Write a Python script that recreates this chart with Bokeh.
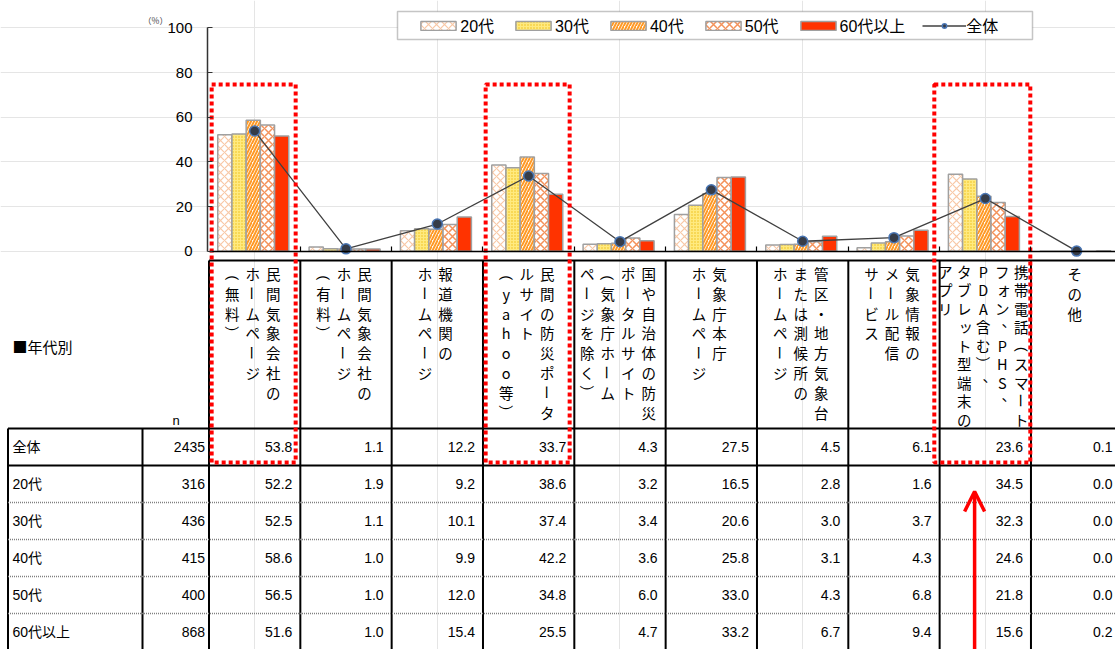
import numpy as np
from bokeh.plotting import figure
from bokeh.models import (Range1d, LinearAxis, FixedTicker, ColumnDataSource, Legend,
                          LegendItem, BoxAnnotation, Arrow, OpenHead, Label)
from bokeh.core.properties import value
from bokeh.embed import file_html
from bokeh.resources import INLINE

# ---------------- data ----------------
category_columns = [
    ["民間気象会社の", "ホームページ", "（無料）"],
    ["民間気象会社の", "ホームページ", "（有料）"],
    ["報道機関の", "ホームページ"],
    ["民間の防災ポータ", "ルサイト", "（yahoo等）"],
    ["国や自治体の防災", "ポータルサイト", "（気象庁ホーム", "ページを除く）"],
    ["気象庁本庁", "ホームページ"],
    ["管区・地方気象台", "または測候所の", "ホームページ"],
    ["気象情報の", "メール配信", "サービス"],
    ["携帯電話（スマート", "フォン、PHS、", "PDA含む）、", "タブレット型端末の", "アプリ"],
    ["その他"],
]
categories = ["".join(c) for c in category_columns]

groups = ["全体", "20代", "30代", "40代", "50代", "60代以上"]
n_values = [2435, 316, 436, 415, 400, 868]

overall = [53.8, 1.1, 12.2, 33.7, 4.3, 27.5, 4.5, 6.1, 23.6, 0.1]
age20 = [52.2, 1.9, 9.2, 38.6, 3.2, 16.5, 2.8, 1.6, 34.5, 0.0]
age30 = [52.5, 1.1, 10.1, 37.4, 3.4, 20.6, 3.0, 3.7, 32.3, 0.0]
age40 = [58.6, 1.0, 9.9, 42.2, 3.6, 25.8, 3.1, 4.3, 24.6, 0.0]
age50 = [56.5, 1.0, 12.0, 34.8, 6.0, 33.0, 4.3, 6.8, 21.8, 0.0]
age60 = [51.6, 1.0, 15.4, 25.5, 4.7, 33.2, 6.7, 9.4, 15.6, 0.2]

series_names = ["20代", "30代", "40代", "50代", "60代以上"]
series_values = [age20, age30, age40, age50, age60]
table_rows = [overall, age20, age30, age40, age50, age60]
y_ticks = [0, 20, 40, 60, 80, 100]
highlight_idx = [0, 3, 8]
arrow_idx = 8

# ---------------- layout ----------------
W, H = 1115, 649
OX, OY = 0, 0
COL0 = 208.5
COLW = 91.33
ZERO_Y = 250.8
PX_PER_PCT = 2.235


def cat_of(sx):
    return (sx - COL0) / COLW - 0.5


def pct_of(sy):
    return (ZERO_Y - sy) / PX_PER_PCT


FONT_NUM = "Liberation Sans, Noto Sans CJK JP"
FONT_JP = "Noto Sans CJK JP"

p = figure(width=W, height=H, output_backend="svg", toolbar_location=None,
           x_range=Range1d(cat_of(OX), cat_of(OX + W)),
           y_range=Range1d(pct_of(OY + H), pct_of(OY)),
           x_axis_location=None, y_axis_location=None, min_border=0,
           outline_line_color=None, background_fill_color="white")
p.extra_x_ranges = {"px": Range1d(OX, OX + W)}
p.extra_y_ranges = {"py": Range1d(OY + H, OY)}
PX = dict(x_range_name="px", y_range_name="py")

# ---------------- bars ----------------
BW = 14.2 / COLW
SHIFT = -1.4 / COLW
styles = [
    dict(fill_color="white", hatch_pattern="x", hatch_color="#F8C8A6", hatch_scale=8, hatch_weight=1.2),
    dict(fill_color="#FFEA80", hatch_pattern=".", hatch_color="#EDBE12", hatch_scale=3, hatch_weight=1.0),
    dict(fill_color="white", hatch_pattern="/", hatch_color="#FF9A26", hatch_scale=6, hatch_weight=2.0),
    dict(fill_color="white", hatch_pattern="x", hatch_color="#F4925A", hatch_scale=8, hatch_weight=1.5),
    dict(fill_color="#FF3300"),
]
bar_renderers = []
for j, (name, vals) in enumerate(zip(series_names, series_values)):
    src = ColumnDataSource(dict(x=[i + (j - 2) * BW + SHIFT for i in range(len(vals))], top=vals))
    r = p.vbar(x="x", top="top", bottom=0, width=BW, source=src,
               line_color="#A0A0A0", line_width=1.5, **styles[j])
    bar_renderers.append(r)

# ---------------- overall line ----------------
lsrc = ColumnDataSource(dict(x=list(range(len(overall))), y=overall))
line_r = p.line("x", "y", source=lsrc, line_color="#404040", line_width=1.3)
dot_r = p.scatter("x", "y", source=lsrc, size=10, fill_color="#363C48",
                  line_color="#4A76B4", line_width=1.5)

# ---------------- axes ----------------
yaxis = LinearAxis(fixed_location=-0.5 - 1.5 / COLW, bounds=(0, 100),
                   ticker=FixedTicker(ticks=y_ticks))
yaxis.major_tick_in = 5
yaxis.major_tick_out = 0
yaxis.minor_tick_in = 0
yaxis.minor_tick_out = 0
yaxis.major_label_standoff = 15
yaxis.major_label_text_font = "Liberation Sans"
yaxis.major_label_text_font_size = "15px"
yaxis.major_label_text_color = "black"
yaxis.axis_line_color = "#333333"
yaxis.axis_line_width = 1.5
yaxis.major_tick_line_color = "#333333"
yaxis.major_tick_line_width = 1.2
p.add_layout(yaxis, "left")

xticks = [i + 0.5 for i in range(len(categories) - 1)]
xaxis = LinearAxis(fixed_location=0, bounds=(-0.5, len(categories) - 0.5),
                   ticker=FixedTicker(ticks=xticks),
                   major_label_overrides={t: "" for t in xticks})
xaxis.major_tick_in = 5
xaxis.major_tick_out = 0
xaxis.minor_tick_in = 0
xaxis.minor_tick_out = 0
xaxis.axis_line_color = "black"
xaxis.axis_line_width = 1.5
xaxis.major_tick_line_color = "black"
xaxis.major_tick_line_width = 1.2
p.add_layout(xaxis, "below")

p.add_layout(Label(x=155, y=19, text="（%）", text_font=FONT_JP, text_font_size="8.5px",
                   text_align="center", text_baseline="middle", **PX))

# ---------------- table grid ----------------
TABLE_TOP = 428.0
ROW_H = 37.0
LABEL_TOP = 260.0
RIGHT = OX + W
col_edges = [COL0 + COLW * k for k in range(len(categories))]

# solid black lines
sx0, sy0, sx1, sy1 = [], [], [], []
for k in range(2):
    y = TABLE_TOP + ROW_H * k
    sx0.append(7.5); sy0.append(y); sx1.append(RIGHT); sy1.append(y)
sx0.append(COL0); sy0.append(LABEL_TOP); sx1.append(RIGHT); sy1.append(LABEL_TOP)
for x in [7.5, 142]:
    sx0.append(x); sy0.append(TABLE_TOP); sx1.append(x); sy1.append(OY + H)
for x in col_edges:
    sx0.append(x); sy0.append(LABEL_TOP); sx1.append(x); sy1.append(OY + H)
p.segment(sx0, sy0, sx1, sy1, line_color="black", line_width=2, **PX)

# dotted gray row separators
dy = [TABLE_TOP + ROW_H * k for k in range(2, len(groups))]
p.segment([7.5] * len(dy), dy, [RIGHT] * len(dy), dy, line_color="#7F7F7F",
          line_width=1.5, line_dash="1 1", **PX)

# ---------------- table texts ----------------
row_centers = [TABLE_TOP + ROW_H * (k + 0.5) for k in range(len(groups))]
p.text(x=[12] * len(groups), y=row_centers, text=groups, text_font=value(FONT_NUM),
       text_font_size="14px", text_align="left", text_baseline="middle",
       text_color="black", **PX)
p.text(x=[204.5] * len(groups), y=row_centers, text=[str(n) for n in n_values],
       text_font=value(FONT_NUM), text_font_size="14px", text_align="right",
       text_baseline="middle", text_color="black", **PX)

cx, cy, ct = [], [], []
for r, vals in enumerate(table_rows):
    for i, v in enumerate(vals):
        cx.append(min(COL0 + COLW * (i + 1) - 8, RIGHT - 3))
        cy.append(row_centers[r])
        ct.append(f"{v:.1f}")
p.text(x=cx, y=cy, text=ct, text_font=value(FONT_NUM), text_font_size="14px",
       text_align="right", text_baseline="middle", text_color="black", **PX)

p.text(x=[12], y=[346], text=["■年代別"], text_font=value(FONT_JP), text_font_size="15px",
       text_align="left", text_baseline="middle", text_color="black", **PX)
p.text(x=[175.7], y=[420], text=["n"], text_font=value(FONT_NUM), text_font_size="13px",
       text_align="center", text_baseline="middle", text_color="black", **PX)

# ---------------- vertical category labels ----------------
ROT = set("ー（）")
SMALL = set("ッォャュョァィゥェ")
vx, vy, vt, va = [], [], [], []
for i, cols in enumerate(category_columns):
    tight = len(cols) >= 5
    colsp = 19.0 if tight else 20.5
    linesp = 18.5 if tight else 19.8
    y0 = 270.5 if tight else 273.0
    ccx = COL0 + COLW * (i + 0.5) - 2
    n = len(cols)
    for c, s in enumerate(cols):
        x = ccx + ((n - 1) / 2 - c) * colsp
        for k, ch in enumerate(s):
            ddx = ddy = 0.0
            ang = 0.0
            if ch in ROT:
                ang = -np.pi / 2
            if ch == "、":
                ddx, ddy = 6.5, -6.5
            if ch in SMALL:
                ddx, ddy = 1.5, -1.5
            vx.append(x + ddx)
            vy.append(y0 + k * linesp + ddy)
            vt.append(ch)
            va.append(ang)
p.text(x="x", y="y", text="t", angle="a",
       source=ColumnDataSource(dict(x=vx, y=vy, t=vt, a=va)),
       text_font=value(FONT_JP), text_font_size="14.5px", text_align="center",
       text_baseline="middle", text_color="black", **PX)

# ---------------- highlight boxes & arrow ----------------
hl_pad = [(-43, 41), (-43, 41), (-51, 45)]
hl_l = [COL0 + COLW * (i + 0.5) + a for i, (a, b) in zip(highlight_idx, hl_pad)]
hl_r = [COL0 + COLW * (i + 0.5) + b for i, (a, b) in zip(highlight_idx, hl_pad)]
p.quad(left=hl_l, right=hl_r, top=[84] * 3, bottom=[462] * 3, fill_alpha=0,
       line_color="#FF0000", line_width=4, line_dash="4 3", **PX)

ax = COL0 + COLW * (arrow_idx + 0.5) - 10.7
p.add_layout(Arrow(end=OpenHead(size=20, line_color="#FF0000", line_width=3.5),
                   x_start=ax, y_start=665, x_end=ax, y_end=491,
                   line_color="#FF0000", line_width=3.5, **PX))

# ---------------- legend ----------------
p.add_layout(BoxAnnotation(left=397, right=1032, top=11, bottom=39, fill_color="white",
                           fill_alpha=1, line_color="#404040", line_width=1.5,
                           level="overlay", **PX))
items = [LegendItem(label=nm, renderers=[r]) for nm, r in zip(series_names, bar_renderers)]
items.append(LegendItem(label="全体", renderers=[line_r, dot_r]))
legend = Legend(items=items, orientation="horizontal", location=(416.3, 612),
                glyph_width=44, glyph_height=11, label_height=11, label_standoff=0,
                spacing=17, padding=0, margin=0, border_line_color=None,
                background_fill_alpha=0, label_text_font=FONT_NUM,
                label_text_font_size="16px", label_text_color="black")
legend.level = "overlay"
p.add_layout(legend, "center")

open("out.html", "w").write(file_html(p, INLINE))
